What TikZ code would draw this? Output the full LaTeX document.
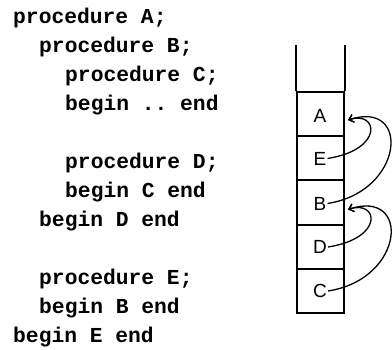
\documentclass[tikz,border=0pt]{standalone}
\usepackage{fontspec}
\setmainfont{Liberation Sans}
\setmonofont{Liberation Mono}
\usetikzlibrary{calc,arrows.meta}
\begin{document}
\begin{tikzpicture}[x=1pt,y=-1pt,
  code/.style={anchor=base west,inner sep=0pt,font=\fontsize{21.3}{24}\selectfont\ttfamily\bfseries},
  cell/.style={draw,line width=2pt,minimum width=47pt,minimum height=44.2pt,inner sep=0pt},
  lbl/.style={inner sep=1pt,font=\fontsize{19}{21}\selectfont},
  link/.style={line width=1.3pt,-{Straight Barb[length=4.5pt,width=8pt,line width=1.3pt]}}]
\useasboundingbox (0,0) rectangle (392,350);
% code listing
\node[code] (t1) at (13,23.5) {procedure A;};
\node[code] (t2) at (39,52.5) {procedure B;};
\node[code] (t3) at (65,81.5) {procedure C;};
\node[code] (t4) at (65,110.5) {begin .. end};
\node[code] (t5) at (65,168.5) {procedure D;};
\node[code] (t6) at (65,197.5) {begin C end};
\node[code] (t7) at (39,226.5) {begin D end};
\node[code] (t8) at (39,284.5) {procedure E;};
\node[code] (t9) at (39,313.5) {begin B end};
\node[code] (t10) at (13,342.5) {begin E end};
% stack
\node[cell] (cA) at (320.5,114.1) {};
\node[cell] (cE) at (320.5,158.3) {};
\node[cell] (cB) at (320.5,202.5) {};
\node[cell] (cD) at (320.5,246.7) {};
\node[cell] (cC) at (320.5,290.9) {};
\draw[line width=2pt] (cA.north west) -- ++(0,-46);
\draw[line width=2pt] (cA.north east) -- ++(0,-46);
\node[lbl] (lA) at (320,115.5) {A};
\node[lbl] (lE) at (320,158.5) {E};
\node[lbl] (lB) at (320,203.5) {B};
\node[lbl] (lD) at (320,247) {D};
\node[lbl] (lC) at (320,291) {C};
\coordinate (Ain) at ($(cA.east)+(3,6)$);
\coordinate (Bin) at ($(cB.east)+(3,7)$);
% links
\draw[link] (lE.east) .. controls +(57,-9) and +(30,-10) .. (Ain);
\draw[link] (lB.east) .. controls +(77,-12) and +(63,-21) .. (Ain);
\draw[link] (lD.east) .. controls +(57,-9) and +(30,-10) .. (Bin);
\draw[link] (lC.east) .. controls +(77,-12) and +(63,-21) .. (Bin);
\end{tikzpicture}
\end{document}
